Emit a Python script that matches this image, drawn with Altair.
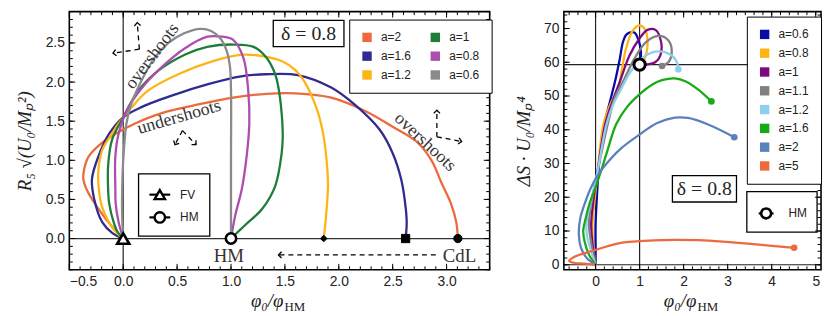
import altair as alt
import pandas as pd

# ---------------- LEFT PANEL DATA ----------------
L_NAMES = ['a=2', 'a=1.6', 'a=1.2', 'a=1', 'a=0.8', 'a=0.6']
L_COLORS = ['#EC6A3D', '#2F2B8F', '#FDB515', '#1D7E3A', '#AD4DAE', '#8A8A8A']

L_A2 = [(0, 0), (-0.09, 0.13), (-0.23, 0.38), (-0.33, 0.6), (-0.37, 0.76), (-0.36, 0.9),
        (-0.32, 1.05), (-0.2, 1.22), (-0.07, 1.34), (0.11, 1.47), (0.35, 1.6), (0.72, 1.72),
        (1.02, 1.8), (1.33, 1.85), (1.6, 1.855), (1.93, 1.8), (2.23, 1.64), (2.5, 1.43),
        (2.72, 1.24), (2.86, 1.0), (2.95, 0.72), (3.04, 0.45), (3.09, 0.21), (3.105, 0)]
L_A16 = [(0, 0), (-0.1, 0.07), (-0.195, 0.21), (-0.27, 0.51), (-0.29, 0.76), (-0.23, 1.05),
         (-0.13, 1.34), (0.0, 1.55), (0.17, 1.68), (0.5, 1.85), (0.78, 1.97), (1.08, 2.07),
         (1.32, 2.1), (1.62, 2.09), (1.93, 1.93), (2.14, 1.72), (2.38, 1.39), (2.5, 1.09),
         (2.58, 0.75), (2.62, 0.4), (2.63, 0.2), (2.62, 0)]
L_A12 = [(0, 0), (-0.06, 0.07), (-0.134, 0.21), (-0.2, 0.42), (-0.226, 0.63), (-0.232, 0.84),
         (-0.195, 1.13), (-0.1, 1.35), (-0.043, 1.47), (0.08, 1.68), (0.23, 1.89), (0.51, 2.1),
         (0.84, 2.27), (1.1, 2.35), (1.3, 2.33), (1.47, 2.27), (1.6, 2.15), (1.68, 2.01),
         (1.8, 1.64), (1.86, 1.3), (1.89, 0.95), (1.9, 0.67), (1.88, 0.26), (1.86, 0)]
L_A1 = [(0, 0), (-0.05, 0.08), (-0.089, 0.21), (-0.13, 0.45), (-0.14, 0.63), (-0.14, 0.93),
        (-0.104, 1.26), (0.0, 1.55), (0.14, 1.89), (0.32, 2.14), (0.57, 2.35), (0.78, 2.45),
        (1.02, 2.48), (1.21, 2.45), (1.33, 2.31), (1.41, 2.1), (1.44, 1.93), (1.47, 1.6),
        (1.48, 1.3), (1.47, 1.09), (1.41, 0.67), (1.29, 0.38), (1.13, 0.17), (1.0, 0)]
L_A08 = [(0, 0), (-0.043, 0.21), (-0.07, 0.45), (-0.073, 0.63), (-0.073, 1.05), (-0.043, 1.34),
         (0.05, 1.68), (0.2, 1.97), (0.38, 2.22), (0.57, 2.43), (0.78, 2.58), (0.92, 2.58),
         (1.02, 2.54), (1.115, 2.31), (1.16, 1.89), (1.17, 1.47), (1.145, 1.05), (1.1, 0.63),
         (1.04, 0.3), (1.0, 0)]
L_A06 = [(0, 0), (-0.01, 0.3), (-0.01, 0.6), (0.0, 1.0), (0.03, 1.47), (0.07, 1.7),
         (0.125, 1.89), (0.2, 2.1), (0.29, 2.31), (0.42, 2.5), (0.56, 2.62), (0.72, 2.68),
         (0.82, 2.65), (0.9, 2.56), (0.96, 2.4), (0.99, 2.2), (1.0, 1.9), (1.0, 1.0), (1.0, 0)]
L_CURVES = [L_A2, L_A16, L_A12, L_A1, L_A08, L_A06]

# markers on the phi axis
L_MARK_NAMES = ['FV', 'HM', 'end a=1.2', 'end a=1.6', 'end a=2']
L_MARK_X = [0.0, 1.0, 1.86, 2.62, 3.105]
L_MARK_Y = [0.0, 0.0, 0.0, 0.0, 0.0]
L_MARK_SHAPE = ['triangle-up', 'circle', 'diamond', 'square', 'circle']
L_MARK_FILL = ['white', 'white', 'black', 'black', 'black']
L_MARK_SIZE = [150, 110, 45, 70, 70]
L_MARK_SW = [2.6, 2.6, 1, 1, 1]

# text annotations (centres)
L_ANN_TEXT = ['overshoots', 'undershoots', 'overshoots']
L_ANN_X = [0.27, 0.52, 2.8]
L_ANN_Y = [2.33, 1.55, 1.23]
L_ANN_ANGLE = [307, 344, 43]
L_LAB_TEXT = ['HM', 'CdL']
L_LAB_X = [0.98, 3.12]
L_LAB_Y = [-0.23, -0.23]

# dashed arrows
L_ARROW_ID = ['A', 'B', 'C', 'D', 'E', 'F', 'G']
L_ARROW_X0 = [0.15, 0.15, 0.55, 0.55, 2.91, 2.91, 2.9]
L_ARROW_Y0 = [2.42, 2.42, 1.38, 1.38, 1.30, 1.30, -0.21]
L_ARROW_X1 = [0.13, -0.095, 0.48, 0.675, 2.91, 3.14, 1.44]
L_ARROW_Y1 = [2.76, 2.37, 1.2, 1.2, 1.64, 1.24, -0.21]
L_ARROW_ANG = [355, 261, 208, 136, 0, 101, 270]

L_DELTA_BOX = (1.392, 2.048, 2.454, 2.79)
L_DELTA_POS = (1.72, 2.62)

LX_DOMAIN = [-0.5, 3.4]
LY_DOMAIN = [-0.4, 2.9]
LX_LABELS = [-0.5, 0.0, 0.5, 1.0, 1.5, 2.0, 2.5, 3.0]
LY_LABELS = [0.0, 0.5, 1.0, 1.5, 2.0, 2.5]
LX_MINOR = [round(-0.4 + 0.1 * k, 2) for k in range(39)]
LY_MINOR = [round(-0.4 + 0.1 * k, 2) for k in range(34)]

# ---------------- RIGHT PANEL DATA ----------------
R_NAMES = ['a=0.6', 'a=0.8', 'a=1', 'a=1.1', 'a=1.2', 'a=1.6', 'a=2', 'a=5']
R_COLORS = ['#0A0AA6', '#FDB515', '#7E0A80', '#808080', '#8DCFEE', '#17AA17', '#5B80BE', '#EC6A3D']

R_A06 = [(0, 0), (0, 5), (0.0, 12), (0.03, 20), (0.08, 30), (0.2, 41.7), (0.32, 48), (0.44, 54.2),
         (0.55, 61), (0.62, 65.9), (0.7, 68.2), (0.77, 68.8), (0.88, 68.8), (0.98, 66.4),
         (1.03, 63), (1.02, 60.5), (1.0, 59.3)]
R_A08 = [(0, 0), (-0.05, 5), (-0.07, 12), (-0.03, 18), (0.05, 28), (0.18, 41.7), (0.35, 48),
         (0.51, 52.3), (0.6, 58), (0.69, 64), (0.84, 69.3), (0.99, 70.9), (1.12, 69.8),
         (1.18, 65.9), (1.14, 62), (1.07, 60.1), (1.0, 59.3)]
R_A1 = [(0, 0), (-0.06, 5), (-0.1, 12), (-0.06, 18), (0.05, 28), (0.22, 41.7), (0.4, 49),
        (0.55, 54.2), (0.77, 62), (0.99, 66.9), (1.18, 69.6), (1.36, 69.6), (1.49, 65.9),
        (1.47, 62), (1.36, 60.1), (1.14, 59.3), (1.0, 59.3)]
R_A11 = [(0, 0), (-0.08, 5), (-0.15, 12), (-0.1, 18), (0.05, 28), (0.3, 43), (0.45, 50),
         (0.62, 54.2), (0.88, 61), (1.14, 65.9), (1.43, 67.8), (1.66, 66.4), (1.73, 63),
         (1.66, 60.1), (1.51, 58.9)]
R_A12 = [(0, 0), (-0.1, 4), (-0.2, 9), (-0.2, 13), (-0.12, 18), (0.02, 26), (0.25, 41.7),
         (0.4, 47.5), (0.55, 51.3), (0.84, 58.1), (1.14, 62), (1.43, 63.2), (1.73, 62),
         (1.86, 59.6), (1.88, 57.9)]
R_A16 = [(0, 0), (-0.15, 3), (-0.25, 7), (-0.28, 10), (-0.22, 14), (-0.13, 18.4), (0, 23),
         (0.13, 28), (0.25, 33), (0.47, 41.7), (0.7, 46.5), (0.99, 50.4), (1.3, 53.5),
         (1.51, 54.7), (1.8, 55.2), (2.05, 54.3), (2.39, 51.3), (2.63, 48.4)]
R_A2 = [(0, 0), (-0.2, 2), (-0.33, 5), (-0.38, 9), (-0.35, 13.6), (-0.25, 18), (-0.1, 23),
        (0.05, 26.5), (0.25, 30), (0.58, 34.5), (1.0, 38.6), (1.4, 42), (1.8, 43.6),
        (2.1, 43.5), (2.57, 41.5), (3.15, 37.8)]
R_A5 = [(0, 0), (-0.25, 0.3), (-0.5, 0.6), (-0.6, 1.16), (-0.5, 2.2), (-0.38, 2.9),
        (-0.15, 3.8), (0, 4.4), (0.3, 5.6), (0.65, 6.6), (1.0, 7.0), (1.5, 7.3), (1.8, 7.4),
        (2.35, 7.27), (2.9, 6.85), (3.46, 6.28), (4.0, 5.6), (4.51, 5.03)]
R_CURVES = [R_A06, R_A08, R_A1, R_A11, R_A12, R_A16, R_A2, R_A5]
R_END_DOTS = ['a=1.1', 'a=1.2', 'a=1.6', 'a=2', 'a=5']

R_HM = (1.0, 59.3)
R_DELTA_BOX = (1.745, 3.2, 18.6, 26.4)
R_DELTA_POS = (2.47, 22.5)

RX_DOMAIN = [-0.72, 5.12]
RY_DOMAIN = [-1.5, 75]
RX_LABELS = [0, 1, 2, 3, 4, 5]
RY_LABELS = [0, 10, 20, 30, 40, 50, 60, 70]
RX_MINOR = [round(-0.6 + 0.2 * k, 2) for k in range(29)]
RY_MINOR = [2 * k for k in range(38)]

# ---------------- helpers ----------------
LW, LH = 425, 261
RW, RH = 260, 261
SERIF = 'Liberation Serif'
SANS = 'Liberation Sans'
CHEVRON = 'M-1,1L0,0L1,1'

LX_AXIS = alt.Axis(values=LX_LABELS, format='.1f', title=None)
LY_AXIS = alt.Axis(values=LY_LABELS, format='.1f', title='R₅ √(U₀/Mₚ²)', titleFont=SERIF,
                   titleFontStyle='italic', titleFontSize=19, titleFontWeight='normal',
                   titlePadding=11, titleColor='#222')
RX_AXIS = alt.Axis(values=RX_LABELS, format='d', title=None)
RY_AXIS = alt.Axis(values=RY_LABELS, format='d', title='ΔS · U₀/Mₚ⁴', titleFont=SERIF,
                   titleFontStyle='italic', titleFontSize=19, titleFontWeight='normal',
                   titlePadding=10, titleColor='#222')
L_LEGEND = alt.Legend(orient='none', legendX=283, legendY=8, columns=2, symbolType='square',
                      symbolSize=90, symbolStrokeWidth=0, symbolOpacity=1, labelFont=SANS,
                      labelFontSize=12, labelColor='#222', padding=12, rowPadding=7,
                      columnPadding=18, labelOffset=8, strokeColor='black', fillColor='white',
                      title=None)
R_LEGEND = alt.Legend(orient='none', legendX=185, legendY=5, columns=1, symbolType='square',
                      symbolSize=90, symbolStrokeWidth=0, symbolOpacity=1, labelFont=SANS,
                      labelFontSize=12, labelColor='#222', padding=12, rowPadding=7,
                      labelOffset=8, strokeColor='black', fillColor='white', title=None)

lx = alt.Scale(domain=LX_DOMAIN, nice=False, zero=False)
ly = alt.Scale(domain=LY_DOMAIN, nice=False, zero=False)
lcol = alt.Scale(domain=L_NAMES, range=L_COLORS)
rx = alt.Scale(domain=RX_DOMAIN, nice=False, zero=False)
ry_ = alt.Scale(domain=RY_DOMAIN, nice=False, zero=False)
rcol = alt.Scale(domain=R_NAMES, range=R_COLORS)


def LXe(f='x:Q'):
    return alt.X(f, scale=lx, axis=LX_AXIS)


def LYe(f='y:Q'):
    return alt.Y(f, scale=ly, axis=LY_AXIS)


def RXe(f='x:Q'):
    return alt.X(f, scale=rx, axis=RX_AXIS)


def RYe(f='y:Q'):
    return alt.Y(f, scale=ry_, axis=RY_AXIS)


def curves_df(names, curves):
    rows = []
    for n, pts in zip(names, curves):
        for i, (x, y) in enumerate(pts):
            rows.append({'a': n, 'i': i, 'x': x, 'y': y})
    return pd.DataFrame(rows)


def tick_layers(Xe, Ye, xmaj, xmin, ymaj, ymin, W, H):
    out = []
    for vals, ln in ((xmaj, 6), (xmin, 3.5)):
        d = pd.DataFrame({'x': vals})
        for y0, y1 in ((H, H - ln), (0, ln)):
            out.append(alt.Chart(d).mark_rule(color='black', strokeWidth=1).encode(
                x=Xe(), y=alt.value(y0), y2=alt.value(y1)))
    for vals, ln in ((ymaj, 6), (ymin, 3.5)):
        d = pd.DataFrame({'y': vals})
        for x0, x1 in ((0, ln), (W, W - ln)):
            out.append(alt.Chart(d).mark_rule(color='black', strokeWidth=1).encode(
                y=Ye(), x=alt.value(x0), x2=alt.value(x1)))
    return out


def xtitle(W, H):
    a = alt.Chart(pd.DataFrame({'t': ['φ₀/φ']})).mark_text(
        font=SERIF, fontStyle='italic', fontSize=19, align='right', baseline='alphabetic', color='#222'
    ).encode(text='t:N', x=alt.value(W / 2 + 4), y=alt.value(H + 38))
    b = alt.Chart(pd.DataFrame({'t': ['HM']})).mark_text(
        font=SERIF, fontSize=13, align='left', baseline='alphabetic', color='#222'
    ).encode(text='t:N', x=alt.value(W / 2 + 5), y=alt.value(H + 42))
    return [a, b]


# ---------------- LEFT PANEL ----------------
ldf = curves_df(L_NAMES, L_CURVES)
one = pd.DataFrame({'d': [0]})

l_layers = []
l_layers.append(alt.Chart(ldf).mark_point(filled=True, shape='square', size=0).encode(
    x=LXe(), y=LYe(), color=alt.Color('a:N', scale=lcol, legend=L_LEGEND)))
l_layers.append(alt.Chart(pd.DataFrame({'x': [0.0]})).mark_rule(color='#333', strokeWidth=1.3).encode(x=LXe()))
l_layers.append(alt.Chart(pd.DataFrame({'y': [0.0]})).mark_rule(color='#333', strokeWidth=1.3).encode(y=LYe()))
l_layers.append(alt.Chart(ldf).mark_line(strokeWidth=2.3, interpolate='catmull-rom').encode(
    x=LXe(), y=LYe(), color=alt.Color('a:N', scale=lcol, legend=L_LEGEND), order='i:Q'))

l_layers.append(alt.Chart(pd.DataFrame({'x': [L_DELTA_BOX[0]], 'x2': [L_DELTA_BOX[1]],
                                        'y': [L_DELTA_BOX[2]], 'y2': [L_DELTA_BOX[3]]})).mark_rect(
    fill='white', stroke='black', strokeWidth=1.3).encode(x=LXe(), x2='x2:Q', y=LYe(), y2='y2:Q'))
l_layers.append(alt.Chart(pd.DataFrame({'t': ['δ = 0.8'], 'x': [L_DELTA_POS[0]], 'y': [L_DELTA_POS[1]]})).mark_text(
    font=SERIF, fontSize=20, color='#222', baseline='middle').encode(x=LXe(), y=LYe(), text='t:N'))

ann = pd.DataFrame({'t': L_ANN_TEXT, 'x': L_ANN_X, 'y': L_ANN_Y, 'ang': L_ANN_ANGLE})
l_layers.append(alt.Chart(ann).mark_text(font=SERIF, fontSize=18, color='#333', baseline='middle').encode(
    x=LXe(), y=LYe(), text='t:N', angle=alt.Angle('ang:Q', scale=None)))
lab = pd.DataFrame({'t': L_LAB_TEXT, 'x': L_LAB_X, 'y': L_LAB_Y})
l_layers.append(alt.Chart(lab).mark_text(font=SERIF, fontSize=19, color='#333', baseline='middle').encode(
    x=LXe(), y=LYe(), text='t:N'))

seg_rows = []
for s, x0, y0, x1, y1 in zip(L_ARROW_ID, L_ARROW_X0, L_ARROW_Y0, L_ARROW_X1, L_ARROW_Y1):
    seg_rows.append({'s': s, 'k': 0, 'x': x0, 'y': y0})
    seg_rows.append({'s': s, 'k': 1, 'x': x1, 'y': y1})
l_layers.append(alt.Chart(pd.DataFrame(seg_rows)).mark_line(color='black', strokeWidth=1.3, strokeDash=[5, 4]).encode(
    x=LXe(), y=LYe(), detail='s:N', order='k:Q'))
heads = pd.DataFrame({'x': L_ARROW_X1, 'y': L_ARROW_Y1, 'ang': L_ARROW_ANG})
l_layers.append(alt.Chart(heads).mark_point(shape=CHEVRON, size=40, color='black', strokeWidth=1.3,
                                            filled=False, opacity=1).encode(
    x=LXe(), y=LYe(), angle=alt.Angle('ang:Q', scale=None)))

mk = pd.DataFrame({'n': L_MARK_NAMES, 'x': L_MARK_X, 'y': L_MARK_Y, 'shape': L_MARK_SHAPE,
                   'fill': L_MARK_FILL, 'size': L_MARK_SIZE, 'sw': L_MARK_SW})
l_layers.append(alt.Chart(mk).mark_point(filled=True, stroke='black', opacity=1).encode(
    x=LXe(), y=LYe(),
    shape=alt.Shape('shape:N', scale=None), fill=alt.Fill('fill:N', scale=None),
    size=alt.Size('size:Q', scale=None), strokeWidth=alt.StrokeWidth('sw:Q', scale=None)))

l_layers.append(alt.Chart(one).mark_rect(fill='white', stroke='black', strokeWidth=1.3).encode(
    x=alt.value(70), x2=alt.value(142), y=alt.value(164), y2=alt.value(227)))
for ry, shp, txt in ((185, 'triangle-up', 'FV'), (208, 'circle', 'HM')):
    l_layers.append(alt.Chart(one).mark_rule(color='black', strokeWidth=2.2).encode(
        x=alt.value(81), x2=alt.value(102), y=alt.value(ry)))
    l_layers.append(alt.Chart(one).mark_point(shape=shp, filled=True, fill='white', stroke='black',
                                              strokeWidth=2.4, size=110, opacity=1).encode(
        x=alt.value(91.5), y=alt.value(ry)))
    l_layers.append(alt.Chart(pd.DataFrame({'t': [txt]})).mark_text(
        font=SANS, fontSize=12, align='left', color='#222', baseline='middle').encode(
        text='t:N', x=alt.value(112), y=alt.value(ry)))

l_layers += tick_layers(LXe, LYe, LX_LABELS, LX_MINOR, LY_LABELS, LY_MINOR, LW, LH)
l_layers += xtitle(LW, LH)
left = alt.layer(*l_layers).properties(width=LW, height=LH)

# ---------------- RIGHT PANEL ----------------
rdf = curves_df(R_NAMES, R_CURVES)

r_layers = []
r_layers.append(alt.Chart(rdf).mark_point(filled=True, shape='square', size=0).encode(
    x=RXe(), y=RYe(), color=alt.Color('a:N', scale=rcol, legend=R_LEGEND)))
for v in (0.0, R_HM[0]):
    r_layers.append(alt.Chart(pd.DataFrame({'x': [v]})).mark_rule(color='#222', strokeWidth=1.2).encode(x=RXe()))
for v in (0.0, R_HM[1]):
    r_layers.append(alt.Chart(pd.DataFrame({'y': [v]})).mark_rule(color='#222', strokeWidth=1.2).encode(y=RYe()))
r_layers.append(alt.Chart(rdf).mark_line(strokeWidth=2.3, interpolate='catmull-rom').encode(
    x=RXe(), y=RYe(), color=alt.Color('a:N', scale=rcol, legend=R_LEGEND), order='i:Q'))
ends = rdf.sort_values('i').groupby('a').tail(1)
ends = ends[ends['a'].isin(R_END_DOTS)]
r_layers.append(alt.Chart(ends).mark_point(filled=True, size=45, opacity=1).encode(
    x=RXe(), y=RYe(), color=alt.Color('a:N', scale=rcol, legend=R_LEGEND)))
r_layers.append(alt.Chart(pd.DataFrame({'x': [R_HM[0]], 'y': [R_HM[1]]})).mark_point(
    shape='circle', filled=True, fill='white', stroke='black', strokeWidth=3, size=130, opacity=1).encode(
    x=RXe(), y=RYe()))

r_layers.append(alt.Chart(pd.DataFrame({'x': [R_DELTA_BOX[0]], 'x2': [R_DELTA_BOX[1]],
                                        'y': [R_DELTA_BOX[2]], 'y2': [R_DELTA_BOX[3]]})).mark_rect(
    fill='white', stroke='black', strokeWidth=1.3).encode(x=RXe(), x2='x2:Q', y=RYe(), y2='y2:Q'))
r_layers.append(alt.Chart(pd.DataFrame({'t': ['δ = 0.8'], 'x': [R_DELTA_POS[0]], 'y': [R_DELTA_POS[1]]})).mark_text(
    font=SERIF, fontSize=20, color='#222', baseline='middle').encode(x=RXe(), y=RYe(), text='t:N'))

r_layers.append(alt.Chart(one).mark_rect(fill='white', stroke='black', strokeWidth=1.3).encode(
    x=alt.value(185), x2=alt.value(256), y=alt.value(182), y2=alt.value(223)))
r_layers.append(alt.Chart(one).mark_rule(color='black', strokeWidth=2.2).encode(
    x=alt.value(197), x2=alt.value(212), y=alt.value(204)))
r_layers.append(alt.Chart(one).mark_point(shape='circle', filled=True, fill='white', stroke='black',
                                          strokeWidth=2.6, size=100, opacity=1).encode(
    x=alt.value(204.5), y=alt.value(204)))
r_layers.append(alt.Chart(pd.DataFrame({'t': ['HM']})).mark_text(
    font=SANS, fontSize=12, align='left', color='#222', baseline='middle').encode(
    text='t:N', x=alt.value(227), y=alt.value(204)))

r_layers += tick_layers(RXe, RYe, RX_LABELS, RX_MINOR, RY_LABELS, RY_MINOR, RW, RH)
r_layers += xtitle(RW, RH)
right = alt.layer(*r_layers).properties(width=RW, height=RH)

chart = alt.hconcat(left, right, spacing=20).resolve_scale(color='independent').properties(
    padding={'left': 6, 'top': 0, 'right': 0, 'bottom': 0}
).configure_view(stroke='black', strokeWidth=1.6).configure_axis(
    labelFont=SANS, labelFontSize=14, labelColor='#222', ticks=False, domain=False, grid=False,
    labelPadding=5
)

chart.save('out.html', embed_options={'renderer': 'svg', 'actions': False})
